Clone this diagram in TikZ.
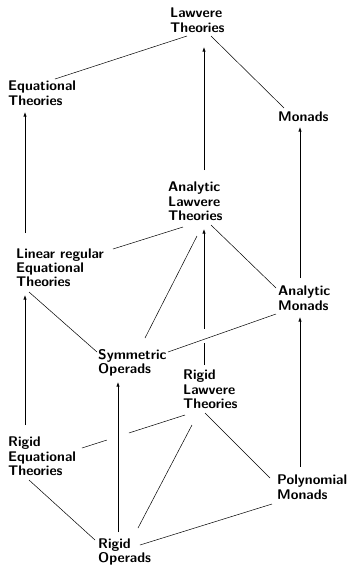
\documentclass[tikz,border=0pt]{standalone}
\usetikzlibrary{arrows.meta,calc}
\begin{document}
\begin{tikzpicture}[x=1pt,y=-1pt,
  lbl/.style={anchor=north west, inner sep=0pt, align=left,
    font=\fontsize{14}{14.2}\selectfont\sffamily\bfseries},
  edge/.style={line width=0.5pt},
  arr/.style={line width=0.6pt,-{Latex[length=4.5pt,width=3.2pt]}}]
\useasboundingbox (0,0) rectangle (351,566);
% nodes
\node[lbl] (lt)  at (170,8)     {Lawvere\\Theories};
\node[lbl] (eq)  at (8,81)      {Equational\\Theories};
\node[lbl] (mo)  at (278,112)   {Monads};
\node[lbl] (alt) at (168,182)   {Analytic\\Lawvere\\Theories};
\node[lbl] (lr)  at (16,248.5)  {Linear regular\\Equational\\Theories};
\node[lbl] (am)  at (278,286)   {Analytic\\Monads};
\node[lbl] (so)  at (98,349.5)  {Symmetric\\Operads};
\node[lbl] (rlt) at (183,370)   {Rigid\\Lawvere\\Theories};
\node[lbl] (re)  at (8,437)     {Rigid\\Equational\\Theories};
\node[lbl] (pm)  at (277,475)   {Polynomial\\Monads};
\node[lbl] (ro)  at (98,538.5)  {Rigid\\Operads};
% plain connectors
\draw[edge] ([shift={(17,28)}]lt.north west) -- ([shift={(47,-2)}]eq.north west);
\draw[edge] ([shift={(41,28)}]lt.north west) -- ([shift={(6,-4)}]mo.north west);
\draw[edge] ([shift={(15,45)}]alt.north west) -- ([shift={(97,0.5)}]lr.north west);
\draw[edge] ([shift={(29,54)}]alt.north west) -- ([shift={(47,-11.5)}]so.north west);
\draw[edge] ([shift={(43,43)}]alt.north west) -- ([shift={(-2,2)}]am.north west);
\draw[edge] ([shift={(-2,28)}]am.north west) -- ([shift={(70,2.5)}]so.north west);
\draw[edge] ([shift={(13,43.5)}]lr.north west) -- ([shift={(-1,2.5)}]so.north west);
\draw[edge] ([shift={(9,55)}]rlt.north west) -- ([shift={(40,-10.5)}]ro.north west);
\draw[edge] ([shift={(22,43)}]rlt.north west) -- ([shift={(-7,3)}]pm.north west);
\draw[edge] ([shift={(21,43)}]re.north west) -- ([shift={(-3,1.5)}]ro.north west);
\draw[edge] ([shift={(42,6.5)}]ro.north west) -- ([shift={(-5,29)}]pm.north west);
% broken connector rlt -- re
\coordinate (rlA) at ([shift={(2,45)}]rlt.north west);
\coordinate (reB) at ([shift={(74,11)}]re.north west);
\draw[edge] (rlA) -- ($(rlA)!0.545!(reB)$);
\draw[edge] ($(rlA)!0.76!(reB)$) -- (reB);
% vertical arrows
\draw[arr] ([shift={(9,-15.5)}]lr.north west) -- ([shift={(17,31)}]eq.north west);
\draw[arr] ([shift={(36,-12)}]alt.north west) -- ([shift={(34,39)}]lt.north west);
\draw[arr] ([shift={(22,-8)}]am.north west) -- ([shift={(22,15)}]mo.north west);
\draw[arr] ([shift={(17,-12)}]re.north west) -- ([shift={(9,46.5)}]lr.north west);
\draw[arr] ([shift={(23,-8.3)}]pm.north west) -- ([shift={(22,31)}]am.north west);
\draw[arr] ([shift={(20,-6.5)}]ro.north west) -- ([shift={(20,32.5)}]so.north west);
% broken arrow rlt -> alt
\coordinate (rlS) at ([shift={(21,-5)}]rlt.north west);
\coordinate (alT) at ([shift={(36,47)}]alt.north west);
\draw[edge] (rlS) -- ($(rlS)!0.162!(alT)$);
\draw[arr] ($(rlS)!0.265!(alT)$) -- (alT);
\end{tikzpicture}
\end{document}
